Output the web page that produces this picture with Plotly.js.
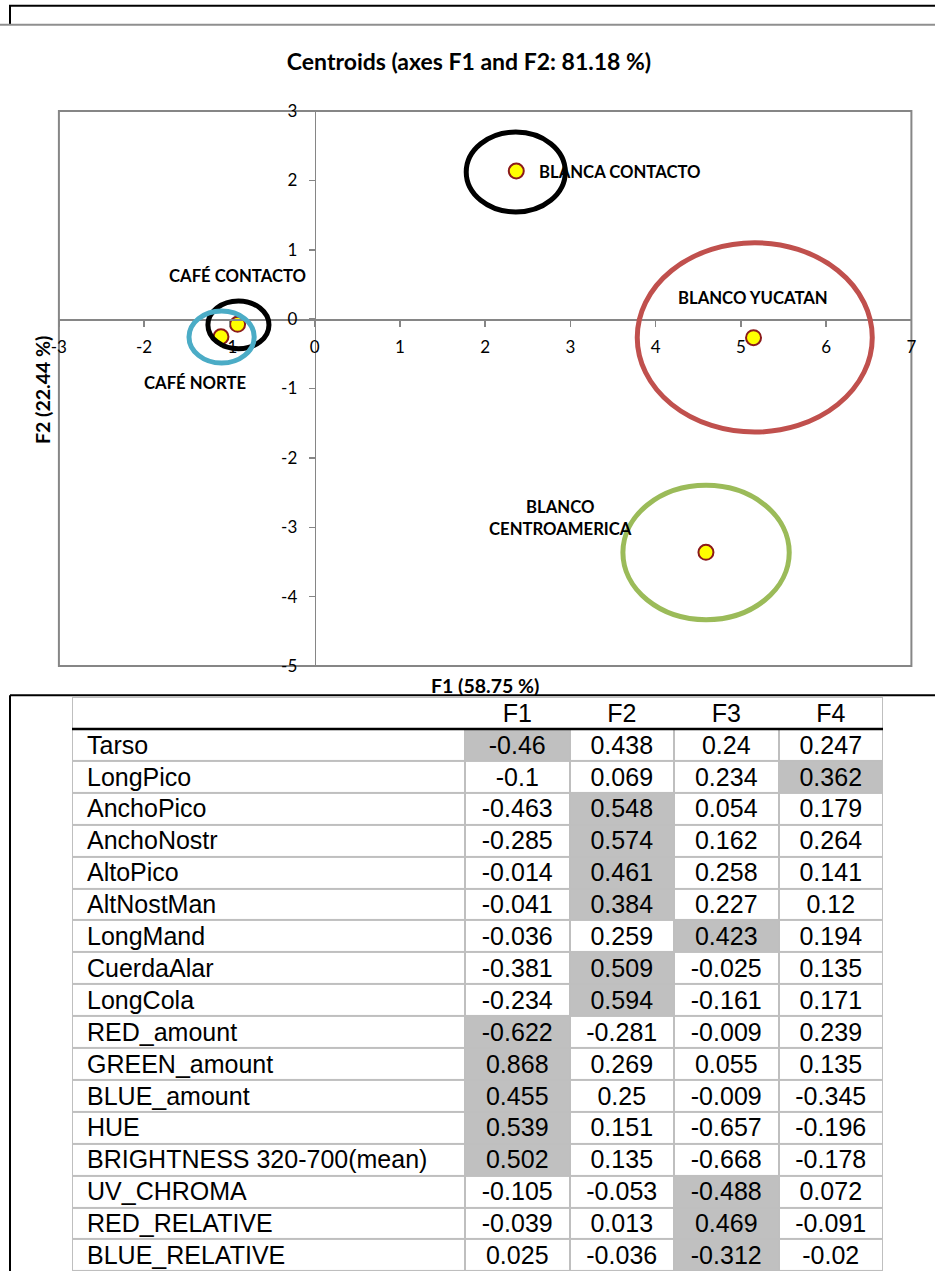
<!DOCTYPE html>
<html>
<head>
<meta charset="utf-8">
<script src="https://cdn.plot.ly/plotly-3.0.1.min.js"></script>
<style>
  html, body { margin: 0; padding: 0; overflow: hidden; background: #ffffff; }
  #chart { width: 935px; height: 1280px; }
</style>
</head>
<body>
<div id="chart"></div>
<script>
// ---------- Scatter data (centroids on F1/F2) ----------
const categories = ['BLANCA CONTACTO', 'BLANCO YUCATAN', 'BLANCO CENTROAMERICA', 'CAFÉ CONTACTO', 'CAFÉ NORTE'];
const centroidF1 = [2.365, 5.148, 4.590, -0.904, -1.099];
const centroidF2 = [2.135, -0.268, -3.361, -0.075, -0.254];
// confidence ellipse bounds
const ellipseF1Min = [1.778, 3.784, 3.616, -1.252, -1.474];
const ellipseF1Max = [2.940, 6.541, 5.567, -0.536, -0.709];
const ellipseF2Min = [1.544, -1.628, -4.333, -0.427, -0.633];
const ellipseF2Max = [2.697, 1.101, -2.396, 0.261, 0.117];
const xTickVals = [-3, -2, -1, 0, 1, 2, 3, 4, 5, 6, 7];
const xTickText = ['-3', '-2', '-1', '0', '1', '2', '3', '4', '5', '6', '7'];
const yTickVals = [-5, -4, -3, -2, -1, 0, 1, 2, 3];
const yTickText = ['-5', '-4', '-3', '-2', '-1', '0', '1', '2', '3'];

// ---------- Table data (factor loadings) ----------
const variables = ['Tarso', 'LongPico', 'AnchoPico', 'AnchoNostr', 'AltoPico', 'AltNostMan', 'LongMand', 'CuerdaAlar', 'LongCola', 'RED_amount', 'GREEN_amount', 'BLUE_amount', 'HUE', 'BRIGHTNESS 320-700(mean)', 'UV_CHROMA', 'RED_RELATIVE', 'BLUE_RELATIVE'];
const factorLabels = ['F1', 'F2', 'F3', 'F4'];
const loadF1 = [-0.46, -0.1, -0.463, -0.285, -0.014, -0.041, -0.036, -0.381, -0.234, -0.622, 0.868, 0.455, 0.539, 0.502, -0.105, -0.039, 0.025];
const loadF2 = [0.438, 0.069, 0.548, 0.574, 0.461, 0.384, 0.259, 0.509, 0.594, -0.281, 0.269, 0.25, 0.151, 0.135, -0.053, 0.013, -0.036];
const loadF3 = [0.24, 0.234, 0.054, 0.162, 0.258, 0.227, 0.423, -0.025, -0.161, -0.009, 0.055, -0.009, -0.657, -0.668, -0.488, 0.469, -0.312];
const loadF4 = [0.247, 0.362, 0.179, 0.264, 0.141, 0.12, 0.194, 0.135, 0.171, 0.239, 0.135, -0.345, -0.196, -0.178, 0.072, -0.091, -0.02];
const highlightedFactor = [0, 3, 1, 1, 1, 1, 2, 1, 1, 0, 0, 0, 0, 0, 2, 2, 2];

// ---------- Styles / layout constants ----------
const W = 935, H = 1280;
const ellipseColors = ['#000000', '#C0504D', '#9BBB59', '#000000', '#4BACC6'];
const labelText = ['BLANCA CONTACTO', 'BLANCO YUCATAN', 'BLANCO<br>CENTROAMERICA', 'CAFÉ CONTACTO', 'CAFÉ NORTE'];
const labelShiftX = [104, -1, -145, 0, -26];
const labelShiftY = [-1, 40, 34, 48, -46];
const FONT = 'Lato, "Open Sans", sans-serif';
const TFONT = '"Liberation Sans", Arial, sans-serif';
const AXIS_GREY = '#868686';
const GRID_GREY = '#BFBFBF';

const plotLeft = 58.9, plotRight = 911.4, plotTop = 111, plotBottom = 666;
const py = p => 1 - p / H;
const px = p => p / W;
const xDom = [px(plotLeft), px(plotRight)];
const yDom = [py(plotBottom), py(plotTop)];
const xRange = [-3, 7], yRange = [-5, 3];
const xZeroPos = xDom[0] + (0 - xRange[0]) / (xRange[1] - xRange[0]) * (xDom[1] - xDom[0]);
const yZeroPos = yDom[0] + (0 - yRange[0]) / (yRange[1] - yRange[0]) * (yDom[1] - yDom[0]);

// table geometry
const tLeft = 72, tRight = 883, tTop = 697, rowPx = 31.9, nameColPx = 393;
const valColPx = (tRight - tLeft - nameColPx) / factorLabels.length;
const tX0 = 0.5 - nameColPx / valColPx;
const tX1 = factorLabels.length + 0.5;
const tYBottom = -1.5 + (H - tTop) / rowPx;
const textDy = 2.5 / rowPx;   // baseline nudge
const TSIZE = 25;

// ---------- Traces ----------
const traces = [];

traces.push({
  type: 'scatter', mode: 'markers',
  x: centroidF1, y: centroidF2, xaxis: 'x', yaxis: 'y',
  marker: { size: 15, color: '#FFFF00', line: { color: '#8B1A1A', width: 2 } },
  hoverinfo: 'skip', cliponaxis: false
});

// table: fills via heatmap
const loadCols = [loadF1, loadF2, loadF3, loadF4];
const zFill = variables.map((v, r) => [0].concat(factorLabels.map((f, c) => highlightedFactor[r] === c ? 1 : 0)));
const rowIdx = variables.map((v, i) => i);
traces.push({
  type: 'heatmap', xaxis: 'x2', yaxis: 'y2',
  x: [tX0, 0.5, 1.5, 2.5, 3.5, 4.5], y: rowIdx, z: zFill,
  zmin: 0, zmax: 1, colorscale: [[0, '#FFFFFF'], [1, '#C0C0C0']],
  showscale: false, xgap: 2, ygap: 2, hoverinfo: 'skip'
});

// values
const vx = [], vy = [], vt = [];
loadCols.forEach((col, c) => col.forEach((v, r) => { vx.push(c + 1); vy.push(r + textDy); vt.push(String(v)); }));
traces.push({
  type: 'scatter', mode: 'text', xaxis: 'x2', yaxis: 'y2',
  x: vx, y: vy, text: vt, textposition: 'middle center',
  textfont: { family: TFONT, size: TSIZE, color: '#000000' }, hoverinfo: 'skip', cliponaxis: false
});
// names
traces.push({
  type: 'scatter', mode: 'text', xaxis: 'x2', yaxis: 'y2',
  x: variables.map(() => tX0 + 15 / valColPx), y: rowIdx.map(r => r + textDy), text: variables, textposition: 'middle right',
  textfont: { family: TFONT, size: TSIZE, color: '#000000' }, hoverinfo: 'skip', cliponaxis: false
});
// header
traces.push({
  type: 'scatter', mode: 'text', xaxis: 'x2', yaxis: 'y2',
  x: factorLabels.map((f, i) => i + 1), y: factorLabels.map(() => -1 + textDy), text: factorLabels,
  textposition: 'middle center',
  textfont: { family: TFONT, size: TSIZE, color: '#000000' }, hoverinfo: 'skip', cliponaxis: false
});

// ---------- Shapes ----------
const shapes = [];
// ellipses
categories.forEach((c, i) => {
  shapes.push({
    type: 'circle', xref: 'x', yref: 'y', layer: 'above',
    x0: ellipseF1Min[i], x1: ellipseF1Max[i], y0: ellipseF2Min[i], y1: ellipseF2Max[i],
    line: { color: ellipseColors[i], width: 5 }
  });
});
// plot border
shapes.push({ type: 'rect', xref: 'x domain', yref: 'y domain', x0: 0, x1: 1, y0: 0, y1: 1, layer: 'below',
  line: { color: AXIS_GREY, width: 2 } });
// page fragments at top
shapes.push({ type: 'line', xref: 'paper', yref: 'paper', x0: px(9), x1: 1, y0: py(5.7), y1: py(5.7), line: { color: '#000000', width: 2 } });
shapes.push({ type: 'line', xref: 'paper', yref: 'paper', x0: px(10), x1: px(10), y0: py(5), y1: py(24), line: { color: '#000000', width: 2 } });
shapes.push({ type: 'line', xref: 'paper', yref: 'paper', x0: 0, x1: 1, y0: py(24.8), y1: py(24.8), line: { color: '#8F8F8F', width: 2 } });
// table outer black frame
shapes.push({ type: 'line', xref: 'paper', yref: 'paper', x0: px(10), x1: 1, y0: py(695.3), y1: py(695.3), line: { color: '#000000', width: 2 } });
shapes.push({ type: 'line', xref: 'paper', yref: 'paper', x0: px(10), x1: px(10), y0: py(695.3), y1: 0, line: { color: '#000000', width: 2 } });
// table grid background (shows through heatmap gaps)
shapes.push({ type: 'rect', xref: 'x2', yref: 'y2', layer: 'below', x0: tX0, x1: tX1, y0: -0.5, y1: variables.length - 0.5,
  fillcolor: GRID_GREY, line: { width: 0 } });
// header box
shapes.push({ type: 'rect', xref: 'x2', yref: 'y2', layer: 'below', x0: tX0, x1: tX1, y0: -1.5, y1: -0.5,
  fillcolor: '#FFFFFF', line: { color: GRID_GREY, width: 2 } });
// outer grey border of table
shapes.push({ type: 'rect', xref: 'x2', yref: 'y2', layer: 'above', x0: tX0, x1: tX1, y0: -1.5, y1: variables.length - 0.5,
  line: { color: GRID_GREY, width: 2 } });
// header bottom black rule
shapes.push({ type: 'line', xref: 'x2', yref: 'y2', layer: 'above', x0: tX0, x1: tX1, y0: -0.5, y1: -0.5,
  line: { color: '#000000', width: 2.5 } });

// ---------- Annotations ----------
const annotations = categories.map((c, i) => ({
  xref: 'x', yref: 'y', x: centroidF1[i], y: centroidF2[i], text: labelText[i],
  showarrow: false, xshift: labelShiftX[i], yshift: labelShiftY[i],
  xanchor: 'center', yanchor: 'middle', align: 'center',
  font: { family: FONT, size: 16.7, color: '#000000', weight: 'bold' }
}));
annotations.push({ xref: 'paper', yref: 'paper', x: px(485), y: py(685), text: 'F1 (58.75 %)', showarrow: false,
  xanchor: 'center', yanchor: 'middle', font: { family: FONT, size: 19.5, color: '#000000', weight: 'bold' } });
annotations.push({ xref: 'paper', yref: 'paper', x: px(42), y: py(390), text: 'F2 (22.44 %)', showarrow: false,
  textangle: -90, xanchor: 'center', yanchor: 'middle', font: { family: FONT, size: 19.5, color: '#000000', weight: 'bold' } });

const axisCommon = {
  showgrid: false, zeroline: false, fixedrange: true,
  showline: true, linecolor: AXIS_GREY, linewidth: 1.5,
  ticks: 'outside', ticklen: 6, tickwidth: 1.5, tickcolor: AXIS_GREY,
  tickmode: 'array',
  tickfont: { family: FONT, size: 17, color: '#000000' }
};

const layout = {
  width: W, height: H,
  margin: { l: 0, r: 0, t: 0, b: 0, pad: 0 },
  paper_bgcolor: '#FFFFFF', plot_bgcolor: 'rgba(0,0,0,0)',
  showlegend: false,
  title: { text: 'Centroids (axes F1 and F2: 81.18 %)', x: px(469), xanchor: 'center', y: py(62), yanchor: 'middle',
    font: { family: FONT, size: 23, color: '#000000', weight: 'bold' } },
  xaxis: Object.assign({}, axisCommon, { domain: xDom, range: xRange, tickvals: xTickVals, ticktext: xTickText, anchor: 'free', position: yZeroPos, ticklabelstandoff: 6 }),
  yaxis: Object.assign({}, axisCommon, { domain: yDom, range: yRange, tickvals: yTickVals, ticktext: yTickText, anchor: 'free', position: xZeroPos, ticklabelstandoff: 8 }),
  xaxis3: { overlaying: 'x', domain: xDom, range: xRange, tickmode: 'array', tickvals: xTickVals, anchor: 'free', position: yZeroPos,
    showgrid: false, zeroline: false, showline: false, showticklabels: false, fixedrange: true,
    ticks: 'inside', ticklen: 6, tickwidth: 1.5, tickcolor: AXIS_GREY },
  yaxis3: { overlaying: 'y', domain: yDom, range: yRange, tickmode: 'array', tickvals: yTickVals, anchor: 'free', position: xZeroPos,
    showgrid: false, zeroline: false, showline: false, showticklabels: false, fixedrange: true,
    ticks: 'inside', ticklen: 6, tickwidth: 1.5, tickcolor: AXIS_GREY },
  xaxis2: { domain: [px(tLeft), px(tRight)], range: [tX0, tX1], visible: false, fixedrange: true, anchor: 'y2' },
  yaxis2: { domain: [0, py(tTop)], range: [tYBottom, -1.5], visible: false, fixedrange: true, anchor: 'x2' },
  shapes: shapes,
  annotations: annotations
};

Plotly.newPlot('chart', traces, layout, { displayModeBar: false, staticPlot: true });
</script>
</body>
</html>
